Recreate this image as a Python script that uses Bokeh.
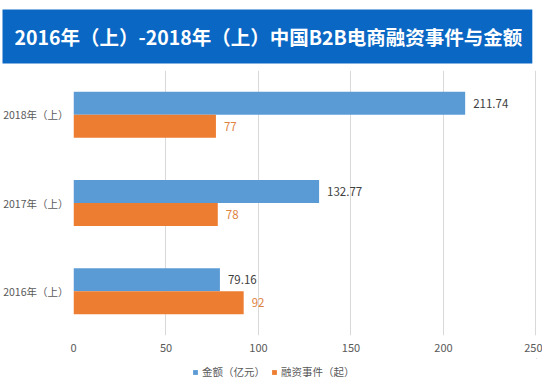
from bokeh.plotting import figure
from bokeh.models import (FactorRange, Range1d, ColumnDataSource, Legend, LegendItem,
                          FixedTicker, Title)
from bokeh.layouts import column
from bokeh.transform import dodge
from bokeh.core.properties import value
from bokeh.embed import file_html
from bokeh.resources import INLINE

title_text = "2016年（上）-2018年（上）中国B2B电商融资事件与金额"
periods = ["2016年（上）", "2017年（上）", "2018年（上）"]
amounts = [79.16, 132.77, 211.74]
events = [92, 78, 77]
series_names = ["金额（亿元）", "融资事件（起）"]
x_ticks = [0, 50, 100, 150, 200, 250]

BLUE = "#5B9BD5"
ORANGE = "#ED7D31"
BANNER = "#0A67C4"
FONT = "Noto Sans CJK SC"

src = ColumnDataSource(dict(
    period=periods,
    amount=amounts,
    events=events,
    amount_lbl=[f"{v:.2f}" for v in amounts],
    events_lbl=[str(v) for v in events],
))

W = 542
H_MAIN = 358
H_LEG = 21

p = figure(
    width=W, height=H_MAIN,
    y_range=FactorRange(factors=periods, range_padding=0),
    x_range=Range1d(0, 250.3),
    output_backend="svg", toolbar_location=None,
    min_border_left=71, min_border_right=6, min_border_top=0, min_border_bottom=23,
)
p.title = Title(
    text=title_text, align="left", offset=-71, standoff=14,
    text_font=FONT, text_font_style="bold", text_font_size="19.5px", text_color="white",
    background_fill_color=BANNER,
    padding=dict(left=12, right=10, top=12, bottom=13),
)
p.outline_line_color = None
p.background_fill_color = "white"
p.border_fill_color = "white"

r1 = p.hbar(y=dodge("period", 0.13, range=p.y_range), right="amount", height=0.26,
            left=0, source=src, color=BLUE, line_color=None)
r2 = p.hbar(y=dodge("period", -0.13, range=p.y_range), right="events", height=0.26,
            left=0, source=src, color=ORANGE, line_color=None)

p.text(x="amount", y=dodge("period", 0.13, range=p.y_range), text="amount_lbl", source=src,
       x_offset=8, text_baseline="middle", text_align="left",
       text_font=value(FONT), text_font_size="11.5px", text_color="#404040")
p.text(x="events", y=dodge("period", -0.13, range=p.y_range), text="events_lbl", source=src,
       x_offset=8, text_baseline="middle", text_align="left",
       text_font=value(FONT), text_font_size="11.5px", text_color="#E0833F")

# x axis
p.xaxis.ticker = FixedTicker(ticks=x_ticks)
p.xaxis.axis_line_color = None
p.xaxis.major_tick_line_color = None
p.xaxis.minor_tick_line_color = None
p.xaxis.major_tick_out = 0
p.xaxis.major_tick_in = 0
p.xaxis.major_label_standoff = 8
p.xaxis.major_label_text_font = FONT
p.xaxis.major_label_text_font_size = "11px"
p.xaxis.major_label_text_color = "#595959"

# y axis
p.yaxis.axis_line_color = None
p.yaxis.major_tick_line_color = None
p.yaxis.minor_tick_line_color = None
p.yaxis.major_tick_out = 0
p.yaxis.major_tick_in = 0
p.yaxis.major_label_standoff = 5
p.yaxis.major_label_text_font = FONT
p.yaxis.major_label_text_font_size = "10.5px"
p.yaxis.major_label_text_color = "#595959"

p.ygrid.grid_line_color = None
p.xgrid.ticker = FixedTicker(ticks=x_ticks)
p.xgrid.grid_line_color = "#D9D9D9"
p.xgrid.grid_line_width = 1

# ---- legend strip (own small figure, frame aligned with the chart) ----
lg = figure(
    width=W, height=H_LEG, x_range=Range1d(0, 1), y_range=Range1d(0, 1),
    output_backend="svg", toolbar_location=None,
    x_axis_location=None, y_axis_location=None,
    min_border_left=71, min_border_right=6, min_border_top=0, min_border_bottom=0,
)
lg.grid.visible = False
lg.outline_line_color = None
lg.background_fill_color = "white"
lg.border_fill_color = "white"
# zero-size keys (outside this strip's range) that only carry the legend colours
k1 = lg.hbar(y="amount", left="amount", right="amount", height=0, source=src,
             color=BLUE, line_color=None)
k2 = lg.hbar(y="events", left="events", right="events", height=0, source=src,
             color=ORANGE, line_color=None)

legend = Legend(
    items=[LegendItem(label=series_names[0], renderers=[k1]),
           LegendItem(label=series_names[1], renderers=[k2])],
    orientation="horizontal",
    location=(119, 0),
    border_line_color=None,
    background_fill_alpha=0,
    glyph_width=6, glyph_height=6,
    label_text_font=FONT, label_text_font_size="10.5px", label_text_color="#595959",
    label_standoff=4, spacing=6, padding=1, margin=0,
    label_height=12,
)
lg.add_layout(legend, "center")

layout = column(p, lg, spacing=0)

open("out.html", "w").write(file_html(layout, INLINE))
